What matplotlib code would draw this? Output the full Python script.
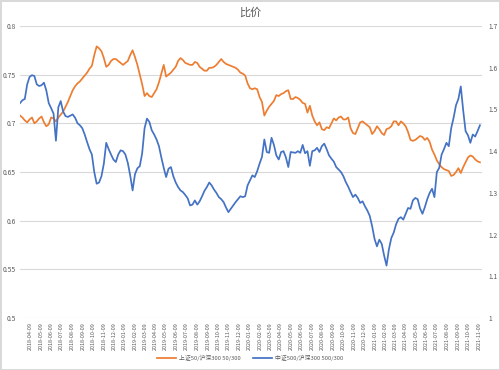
import pandas as pd
import matplotlib
matplotlib.use("Agg")
import matplotlib.pyplot as plt
import matplotlib.dates as mdates

plt.rcParams['font.family'] = ['Noto Sans CJK SC', 'DejaVu Sans']

# weekly samples, starting 2018-03-09
dates = pd.date_range('2018-03-09', periods=193, freq='7D')

sz50_hs300 = [
    0.708, 0.706, 0.703, 0.701, 0.704, 0.706, 0.700, 0.702, 0.705, 0.707,
    0.701, 0.697, 0.699, 0.706, 0.705, 0.702, 0.706, 0.709, 0.712, 0.717,
    0.722, 0.728, 0.734, 0.738, 0.741, 0.743, 0.746, 0.749, 0.752, 0.756,
    0.759, 0.770, 0.779, 0.777, 0.774, 0.767, 0.758, 0.760, 0.764, 0.766,
    0.766, 0.764, 0.762, 0.760, 0.762, 0.764, 0.770, 0.775, 0.768, 0.760,
    0.750, 0.740, 0.728, 0.731, 0.728, 0.727, 0.731, 0.735, 0.742, 0.751,
    0.760, 0.748, 0.750, 0.752, 0.755, 0.758, 0.764, 0.767, 0.765, 0.762,
    0.761, 0.760, 0.760, 0.763, 0.762, 0.758, 0.756, 0.754, 0.754, 0.757,
    0.757, 0.758, 0.760, 0.763, 0.766, 0.763, 0.761, 0.760, 0.759, 0.758,
    0.757, 0.755, 0.752, 0.751, 0.749, 0.741, 0.736, 0.735, 0.736, 0.735,
    0.727, 0.722, 0.708, 0.713, 0.717, 0.720, 0.723, 0.729, 0.728, 0.730,
    0.731, 0.733, 0.734, 0.725, 0.725, 0.727, 0.726, 0.724, 0.721, 0.720,
    0.711, 0.718, 0.708, 0.702, 0.698, 0.701, 0.694, 0.693, 0.696, 0.695,
    0.700, 0.705, 0.703, 0.706, 0.707, 0.704, 0.704, 0.706, 0.695, 0.690,
    0.689, 0.695, 0.701, 0.702, 0.700, 0.698, 0.696, 0.689, 0.692, 0.697,
    0.694, 0.690, 0.688, 0.694, 0.695, 0.697, 0.702, 0.702, 0.698, 0.702,
    0.700, 0.697, 0.691, 0.683, 0.682, 0.683, 0.685, 0.687, 0.686, 0.683,
    0.685, 0.681, 0.673, 0.668, 0.662, 0.658, 0.655, 0.653, 0.652, 0.651,
    0.646, 0.647, 0.650, 0.654, 0.649, 0.655, 0.660, 0.665, 0.667, 0.666,
    0.663, 0.661, 0.660,
]

zz500_hs300 = [
    1.515, 1.522, 1.525, 1.560, 1.578, 1.582, 1.580, 1.560, 1.556, 1.558,
    1.564, 1.545, 1.515, 1.503, 1.490, 1.425, 1.505, 1.520, 1.495, 1.484,
    1.482, 1.485, 1.488, 1.480, 1.467, 1.462, 1.455, 1.440, 1.422, 1.405,
    1.392, 1.350, 1.322, 1.325, 1.340, 1.370, 1.420, 1.405, 1.392, 1.380,
    1.374, 1.392, 1.402, 1.400, 1.392, 1.372, 1.342, 1.306, 1.345, 1.359,
    1.364, 1.395, 1.455, 1.478, 1.470, 1.450, 1.440, 1.428, 1.412, 1.385,
    1.360, 1.338, 1.358, 1.362, 1.340, 1.325, 1.314, 1.306, 1.302, 1.295,
    1.287, 1.270, 1.272, 1.282, 1.272, 1.280, 1.292, 1.305, 1.314, 1.325,
    1.318, 1.308, 1.300, 1.290, 1.285, 1.278, 1.265, 1.254, 1.262, 1.270,
    1.278, 1.285, 1.292, 1.290, 1.292, 1.318, 1.330, 1.342, 1.338, 1.352,
    1.370, 1.386, 1.428, 1.398, 1.396, 1.432, 1.415, 1.390, 1.380, 1.398,
    1.400, 1.385, 1.362, 1.398, 1.397, 1.396, 1.400, 1.396, 1.415, 1.395,
    1.400, 1.365, 1.400, 1.402, 1.408, 1.398, 1.412, 1.418, 1.405, 1.390,
    1.382, 1.375, 1.362, 1.356, 1.350, 1.340, 1.326, 1.315, 1.302, 1.290,
    1.296, 1.288, 1.276, 1.280, 1.268, 1.258, 1.245, 1.220, 1.190, 1.172,
    1.188, 1.178, 1.150, 1.126, 1.165, 1.192, 1.205, 1.225, 1.238, 1.242,
    1.236, 1.250, 1.264, 1.262, 1.282, 1.288, 1.285, 1.263, 1.250, 1.266,
    1.285, 1.300, 1.310, 1.290, 1.350, 1.360, 1.392, 1.405, 1.420, 1.412,
    1.455, 1.480, 1.510, 1.525, 1.555, 1.498, 1.448, 1.438, 1.420, 1.440,
    1.435, 1.448, 1.462,
]

label_a = '上证50/沪深300 50/300'
label_b = '中证500/沪深300 500/300'
left_ticks = [0.5, 0.55, 0.6, 0.65, 0.7, 0.75, 0.8]
right_ticks = [1, 1.1, 1.2, 1.3, 1.4, 1.5, 1.6, 1.7]
month_ticks = pd.date_range('2018-03-09', '2021-11-09', freq='MS') + pd.Timedelta(days=8)

orange = '#ED7D31'
blue = '#4472C4'
grey_txt = '#595959'

fig = plt.figure(figsize=(5, 3.7), dpi=100)
fig.patch.set_edgecolor('#d9d9d9')
fig.patch.set_linewidth(1)
ax = fig.add_axes([0.04, 0.14, 0.924, 0.79])
ax2 = ax.twinx()

l1, = ax.plot(dates, sz50_hs300, color=orange, lw=1.25, label=label_a)
l2, = ax2.plot(dates, zz500_hs300, color=blue, lw=1.25, label=label_b)

ax.set_ylim(0.5, 0.8)
ax.set_yticks(left_ticks)
ax.set_yticklabels([f'{v:g}' for v in left_ticks])
ax2.set_ylim(1.0, 1.7)
ax2.set_yticks(right_ticks)
ax2.set_yticklabels([f'{v:g}' for v in right_ticks])

ax.set_xlim(pd.Timestamp('2018-03-09'), pd.Timestamp('2021-11-18'))
ax.set_xticks(month_ticks)
ax.xaxis.set_major_formatter(mdates.DateFormatter('%Y-%m-%d'))
ax.tick_params(axis='x', labelrotation=90, labelsize=3.9, colors=grey_txt, length=0, pad=3)
ax.tick_params(axis='y', labelsize=4.8, colors=grey_txt, length=0, pad=3)
ax2.tick_params(axis='y', labelsize=4.8, colors=grey_txt, length=0, pad=5)

ax.grid(axis='y', color='#d9d9d9', lw=0.8)
ax.set_axisbelow(True)
for a in (ax, ax2):
    for s in a.spines.values():
        s.set_visible(False)

fig.text(0.5, 0.965, '比价', ha='center', va='center', fontsize=8, color=grey_txt)
fig.legend(handles=[l1, l2], loc='center', bbox_to_anchor=(0.5, 0.032), ncol=2,
           frameon=False, fontsize=4.2, labelcolor=grey_txt, handlelength=3.2,
           handletextpad=0.5, columnspacing=2.2)

fig.savefig('out.png', dpi=100, edgecolor=fig.get_edgecolor())
